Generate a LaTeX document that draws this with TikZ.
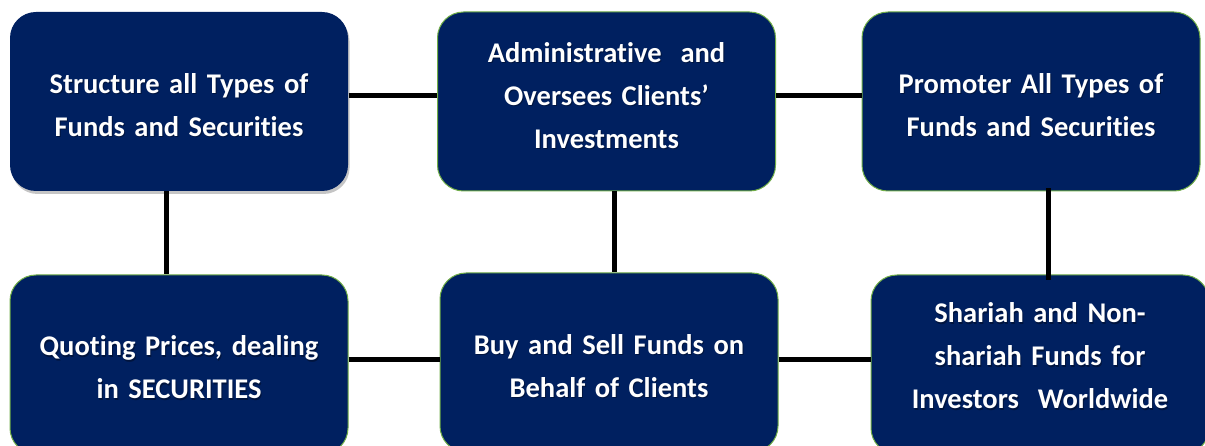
\documentclass[tikz,border=0pt]{standalone}
\usepackage{fontspec}
\setmainfont{Carlito}[Ligatures={NoCommon,NoDiscretionary,NoRare}]
\usetikzlibrary{shadows}
\definecolor{navy}{RGB}{0,32,96}
\definecolor{edgegreen}{RGB}{112,173,71}
\tikzset{
  box/.style={rectangle, rounded corners=26pt, fill=navy, draw=edgegreen, line width=1pt,
    minimum width=338pt, minimum height=179pt, inner sep=0pt},
  txt/.style={text width=330pt, align=center, inner sep=0pt,
    text=white, font=\bfseries\fontsize{28.5}{43}\selectfont},
  txtshadow/.style={txt, text=black, text opacity=0.35},
  link/.style={line width=5pt, black}
}
\newcommand{\boxtext}[4]{%
  \node[txtshadow] at ([xshift=1pt,yshift={#3-1.2pt}]#2.center) {#4};
  \node[txt] (#1) at ([yshift={#3}]#2.center) {#4};}
\begin{document}
\begin{tikzpicture}[x=1pt,y=-1pt]
\useasboundingbox (0,0) rectangle (1205,446);
\fill[white] (0,0) rectangle (1205,446);
\node[box, draw=none, drop shadow={opacity=0.45, shadow xshift=1.5pt, shadow yshift=-3pt}] (b1) at (179,101.5) {};
\node[box] (b2) at (606.5,101.5) {};
\node[box] (b3) at (1031,101.5) {};
\node[box] (b4) at (179,364.5) {};
\node[box] (b5) at (609,362.5) {};
\node[box] (b6) at (1040,364.5) {};
\boxtext{t1}{b1}{-3.5pt}{Structure all Types of\\Funds and Securities}
\boxtext{t2}{b2}{6pt}{Administrative~ and\\Oversees Clients’\\Investments}
\boxtext{t3}{b3}{-3.5pt}{Promoter All Types of\\Funds and Securities}
\boxtext{t4}{b4}{-3pt}{Quoting Prices, dealing\\in SECURITIES}
\boxtext{t5}{b5}{-3.5pt}{Buy and Sell Funds on\\Behalf of Clients}
\boxtext{t6}{b6}{8.5pt}{Shariah and Non-\\shariah Funds for\\Investors~ Worldwide}
\draw[link] ([yshift=5.5pt]b1.east) -- ([yshift=5.5pt]b1.east -| b2.west);
\draw[link] ([yshift=5.5pt]b2.east) -- ([yshift=5.5pt]b2.east -| b3.west);
\draw[link] ([xshift=-13pt]b1.south) -- ([xshift=-13pt]b1.south |- b4.north);
\draw[link] ([xshift=7.5pt]b2.south) -- ([xshift=7.5pt]b2.south |- b5.north);
\coordinate (e3) at ([xshift=17pt,yshift=-6pt]b3.south |- b6.north);
\draw[link] ([xshift=17pt,yshift=3pt]b3.south) -- (e3);
\draw[link] ([yshift=5.5pt]b4.east) -- ([yshift=5.5pt]b4.east -| b5.west);
\draw[link] ([yshift=3.5pt]b5.east) -- ([yshift=3.5pt]b5.east -| b6.west);
\end{tikzpicture}
\end{document}
